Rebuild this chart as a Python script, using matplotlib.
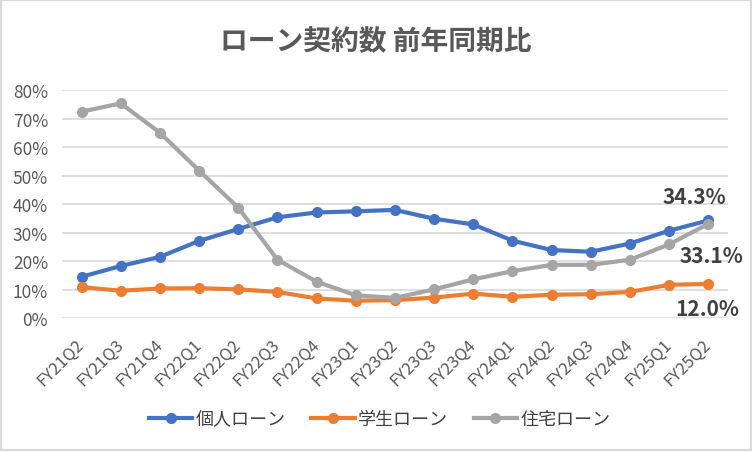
import matplotlib
matplotlib.use("Agg")
import matplotlib.pyplot as plt
from matplotlib.patches import Rectangle
from matplotlib.ticker import PercentFormatter

plt.rcParams['font.family'] = ['Noto Sans CJK JP', 'DejaVu Sans']

# 四半期
quarters = ['FY21Q2', 'FY21Q3', 'FY21Q4', 'FY22Q1', 'FY22Q2', 'FY22Q3', 'FY22Q4',
            'FY23Q1', 'FY23Q2', 'FY23Q3', 'FY23Q4', 'FY24Q1', 'FY24Q2', 'FY24Q3',
            'FY24Q4', 'FY25Q1', 'FY25Q2']

# 前年同期比 (%)
kojin = [14.5, 18.3, 21.5, 27.1, 31.3, 35.4, 37.1, 37.5, 38.0, 34.9, 32.9,
         27.2, 23.9, 23.3, 26.2, 30.7, 34.3]
gakusei = [10.9, 9.6, 10.4, 10.5, 10.1, 9.2, 6.9, 6.1, 6.3, 7.2, 8.6,
           7.5, 8.2, 8.4, 9.2, 11.7, 12.0]
jutaku = [72.5, 75.4, 65.1, 51.8, 38.8, 20.5, 12.8, 8.0, 7.1, 10.1, 13.6,
          16.5, 18.7, 18.7, 20.5, 25.9, 33.1]

fig = plt.figure(figsize=(7.52, 4.52), dpi=100)
ax = fig.add_axes([0.0824, 0.294, 0.8856, 0.504])

x = range(len(quarters))
ax.plot(x, kojin, color='#4472C4', lw=3, marker='o', ms=7, label='個人ローン', zorder=3)
ax.plot(x, gakusei, color='#ED7D31', lw=3, marker='o', ms=7, label='学生ローン', zorder=3)
ax.plot(x, jutaku, color='#A5A5A5', lw=3, marker='o', ms=7, label='住宅ローン', zorder=3)

ax.set_xlim(-0.5, len(quarters) - 0.5)
ax.set_ylim(0, 80)
ax.set_yticks(range(0, 81, 10))
ax.yaxis.set_major_formatter(PercentFormatter(decimals=0))
ax.set_xticks(list(x))
ax.set_xticklabels(quarters, rotation=45, ha='right', va='center', rotation_mode='anchor')
ax.tick_params(axis='both', length=0, colors='#595959')
ax.tick_params(axis='y', labelsize=12.5, pad=10)
ax.tick_params(axis='x', labelsize=12, pad=17)
ax.grid(axis='y', color='#D9D9D9', lw=1.2)
ax.set_axisbelow(True)
for s in ax.spines.values():
    s.set_visible(False)

last = len(quarters) - 1
lab = dict(fontsize=15, fontweight='bold', color='#404040', ha='center', va='center',
           textcoords='offset points')
ax.annotate(f'{kojin[-1]:.1f}%', (last, kojin[-1]), xytext=(-10, 17), **lab)
ax.annotate(f'{jutaku[-1]:.1f}%', (last, jutaku[-1]), xytext=(2, -23), **lab)
ax.annotate(f'{gakusei[-1]:.1f}%', (last, gakusei[-1]), xytext=(-1, -18), **lab)

fig.text(0.5, 0.907, 'ローン契約数 前年同期比', ha='center', va='center',
         fontsize=20, fontweight='bold', color='#595959')

fig.legend(loc='center', bbox_to_anchor=(0.505, 0.071), ncol=3, frameon=False,
           fontsize=13, handlelength=2.4, handletextpad=0.2, columnspacing=1.4,
           labelcolor='#404040')

fig.patches.append(Rectangle((0, 0), 1, 1, transform=fig.transFigure, fill=False,
                             edgecolor='#D9D9D9', lw=3))

fig.savefig('out.png', dpi=100)
